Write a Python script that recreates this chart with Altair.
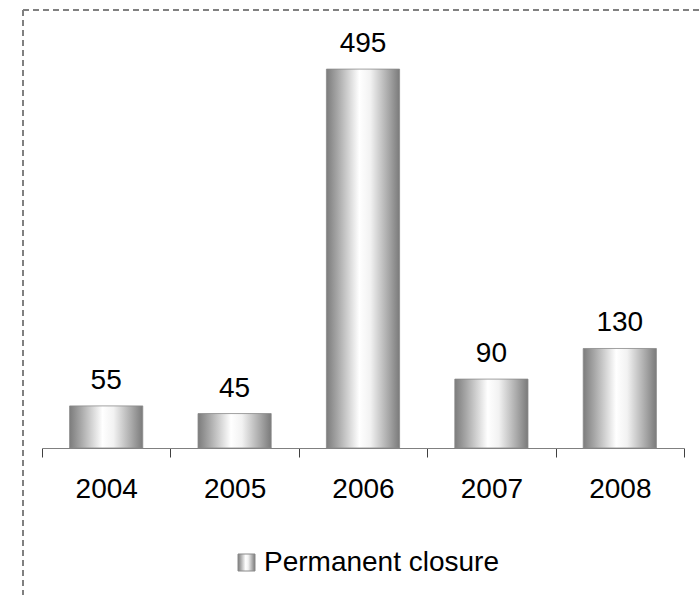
import altair as alt
import pandas as pd

years = ["2004", "2005", "2006", "2007", "2008"]
closures = [55, 45, 495, 90, 130]
series_name = "Permanent closure"

df = pd.DataFrame({"year": years, "value": closures})

FONT = "Liberation Sans"

# cylinder-like horizontal shading for the bars
shade = alt.Gradient(
    gradient="linear",
    x1=0, x2=1, y1=0, y2=0,
    stops=[
        alt.GradientStop(offset=0.0, color="#7c7c7c"),
        alt.GradientStop(offset=0.15, color="#a6a6a6"),
        alt.GradientStop(offset=0.45, color="#ffffff"),
        alt.GradientStop(offset=0.6, color="#f2f2f2"),
        alt.GradientStop(offset=0.85, color="#a8a8a8"),
        alt.GradientStop(offset=1.0, color="#7a7a7a"),
    ],
)

x_enc = alt.X(
    "year:N",
    sort=years,
    title=None,
    scale=alt.Scale(paddingInner=0, paddingOuter=0),
    axis=alt.Axis(
        labelAngle=0,
        labelFont=FONT,
        labelFontSize=28,
        labelColor="#000000",
        labelPadding=18,
        tickBand="extent",
        tickSize=9,
        tickColor="#404040",
        domainColor="#808080",
        domainWidth=1.2,
        grid=False,
    ),
)
y_enc = alt.Y(
    "value:Q",
    scale=alt.Scale(domain=[0, 550], nice=False),
    axis=None,
)

bars = alt.Chart(df).mark_bar(
    color=shade, stroke="#8a8a8a", strokeWidth=0.8,
    width=alt.RelativeBandSize(0.57),
).encode(x=x_enc, y=y_enc)

labels = alt.Chart(df).mark_text(
    font=FONT, fontSize=28, color="#000000", baseline="alphabetic", dy=-17
).encode(x=alt.X("year:N", sort=years), y="value:Q", text="value:Q")

# dashed chart-area border (top and left edges)
border_df = pd.DataFrame({"k": [0]})
border_top = alt.Chart(border_df).mark_rule(
    color="#808080", strokeWidth=2, strokeDash=[6, 4]
).encode(x=alt.value(-19), x2=alt.value(680), y=alt.value(-17))
border_left = alt.Chart(border_df).mark_rule(
    color="#808080", strokeWidth=2, strokeDash=[6, 4]
).encode(x=alt.value(-19), y=alt.value(-17), y2=alt.value(580))

# legend: shaded swatch plus series name
legend_df = pd.DataFrame({"name": [series_name]})
legend_swatch = alt.Chart(legend_df).mark_rect(
    color=shade, stroke="#8a8a8a", strokeWidth=1
).encode(x=alt.value(196), x2=alt.value(213), y=alt.value(527), y2=alt.value(544))
legend_text = alt.Chart(legend_df).mark_text(
    font=FONT, fontSize=28, color="#000000", align="left", baseline="middle"
).encode(x=alt.value(222), y=alt.value(536), text="name:N")

chart = (
    alt.layer(border_top, border_left, bars, labels, legend_swatch, legend_text)
    .properties(
        width=642,
        height=421,
        padding={"left": 42, "top": 27, "right": 16, "bottom": 147},
        autosize=alt.AutoSizeParams(type="none"),
        background="#ffffff",
    )
    .configure_view(stroke=None)
)

chart.save("out.html", embed_options={"renderer": "svg", "actions": False})
